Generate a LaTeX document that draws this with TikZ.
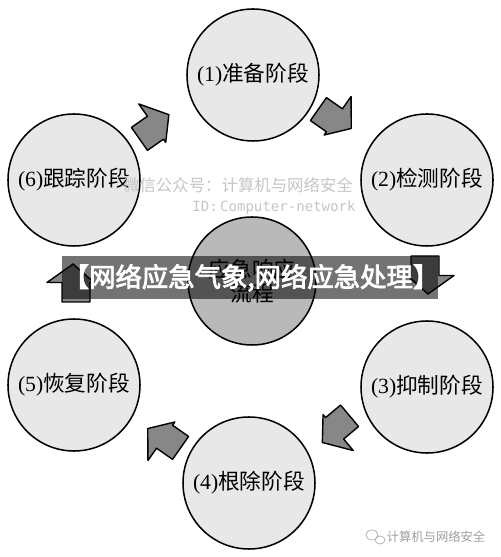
\documentclass[tikz,border=0pt]{standalone}
\usepackage{fontspec}
\setmainfont{Liberation Serif}
\setmonofont{DejaVu Sans Mono}
\newfontfamily\cjk{Noto Sans CJK SC}
\newfontfamily\cjkb{Noto Sans CJK SC}[FakeBold=3]
\definecolor{arrowgray}{RGB}{135,135,135}
\definecolor{stagegray}{RGB}{232,232,232}
\definecolor{hubgray}{RGB}{185,185,185}
\begin{document}
\begin{tikzpicture}[x=0.03cm,y=0.03cm,
  stage/.style={circle,draw=black,line width=1.3pt,fill=stagegray,minimum size=3.96cm,inner sep=0pt,
    font=\fontsize{18.5}{21}\selectfont},
  hub/.style={circle,draw=black,line width=1.3pt,fill=hubgray,minimum size=3.84cm,inner sep=0pt,
    font=\fontsize{18.5}{21}\selectfont,align=center},
  blockarrow/.style={draw=black,line width=1.2pt,fill=arrowgray,line join=round},
  wm/.style={text=gray!45,font=\fontsize{14}{16}\selectfont}]
\useasboundingbox (0,0) rectangle (500,557);
\fill[white] (0,0) rectangle (500,557);

% stages
\node[stage] (s1) at (253,482) {(1)\cjk 准备阶段};
\node[stage] (s2) at (427,377) {(2)\cjk 检测阶段};
\node[stage] (s3) at (427,170) {(3)\cjk 抑制阶段};
\node[stage] (s4) at (249,74)  {(4)\cjk 根除阶段};
\node[stage] (s5) at (74,172)  {(5)\cjk 恢复阶段};
\node[stage] (s6) at (74,377)  {(6)\cjk 跟踪阶段};
\node[hub]   (s0) at (252,276) {\cjk 应急响应\\\cjk 流程};

% block arrows (local: forward = +y, larger barb on the left)
\def\barrow#1#2{\draw[blockarrow,shift={(#1)},rotate=#2]
  (-14,-19) -- (14,-19) -- (14,0.5) -- (18,0.5) -- (-3,19) -- (-29,0.5) -- (-14,0.5) -- cycle;}
\barrow{334,437}{-125}
\barrow{425,282}{-180}
\barrow{335,129}{130}
\barrow{165,120}{55}
\barrow{76,274}{0}
\barrow{155,429}{-55}

% watermark
\node[wm] (w1) at (238,372) {\cjk 微信公众号：计算机与网络安全};
\node[wm,font=\ttfamily\fontsize{12}{14}\selectfont] (w2) at (274,349) {ID:\,Computer-network};
\node[text=gray!75,font=\fontsize{10.5}{12}\selectfont] (w3) at (436,20) {\cjk 计算机与网络安全};
\draw[gray!60,line width=0.6pt] (372,22) ellipse (6 and 5) (380,17) ellipse (5 and 4);

% banner
\fill[black,opacity=0.55] (62,258) rectangle (438,301);
\node[text=white,font=\fontsize{22.5}{24}\selectfont] (ban) at (251,279) {\cjkb 【网络应急气象,网络应急处理】};
\end{tikzpicture}
\end{document}
